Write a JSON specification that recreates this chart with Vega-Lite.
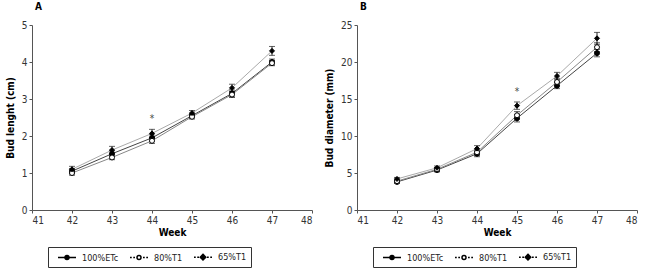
{
  "$schema": "https://vega.github.io/schema/vega-lite/v6.json",
  "background": "white",
  "padding": {"left": 5, "top": 2, "right": 5, "bottom": 0},
  "config": {
    "font": "DejaVu Sans Condensed, Liberation Sans",
    "view": {"stroke": null},
    "axis": {"domainColor": "#555", "tickColor": "#555", "labelColor": "#333", "labelFontSize": 10, "labelFont": "DejaVu Sans Condensed, Liberation Sans", "titleFont": "DejaVu Sans Condensed, Liberation Sans", "titleFontSize": 10, "titleFontWeight": "bold", "titleColor": "black", "grid": false, "tickSize": 3},
    "legend": {"labelFont": "DejaVu Sans Condensed, Liberation Sans"},
    "title": {"font": "DejaVu Sans Condensed, Liberation Sans", "fontSize": 10, "fontWeight": "bold", "anchor": "start", "frame": "group", "offset": 8, "dx": 3}
  },
  "datasets": {
    "A": [
      {"week": 42, "series": "100%ETc", "value": 1.05, "lo": 0.98, "hi": 1.12},
      {"week": 42, "series": "80%T1", "value": 1.0, "lo": 0.94, "hi": 1.06},
      {"week": 42, "series": "65%T1", "value": 1.1, "lo": 1.02, "hi": 1.18},
      {"week": 43, "series": "100%ETc", "value": 1.52, "lo": 1.44, "hi": 1.6},
      {"week": 43, "series": "80%T1", "value": 1.42, "lo": 1.36, "hi": 1.48},
      {"week": 43, "series": "65%T1", "value": 1.62, "lo": 1.52, "hi": 1.72},
      {"week": 44, "series": "100%ETc", "value": 1.95, "lo": 1.87, "hi": 2.03},
      {"week": 44, "series": "80%T1", "value": 1.87, "lo": 1.8, "hi": 1.94},
      {"week": 44, "series": "65%T1", "value": 2.07, "lo": 1.96, "hi": 2.18},
      {"week": 45, "series": "100%ETc", "value": 2.55, "lo": 2.49, "hi": 2.61},
      {"week": 45, "series": "80%T1", "value": 2.52, "lo": 2.46, "hi": 2.58},
      {"week": 45, "series": "65%T1", "value": 2.62, "lo": 2.55, "hi": 2.69},
      {"week": 46, "series": "100%ETc", "value": 3.15, "lo": 3.06, "hi": 3.24},
      {"week": 46, "series": "80%T1", "value": 3.12, "lo": 3.04, "hi": 3.2},
      {"week": 46, "series": "65%T1", "value": 3.3, "lo": 3.2, "hi": 3.4},
      {"week": 47, "series": "100%ETc", "value": 4.0, "lo": 3.92, "hi": 4.08},
      {"week": 47, "series": "80%T1", "value": 3.97, "lo": 3.9, "hi": 4.04},
      {"week": 47, "series": "65%T1", "value": 4.3, "lo": 4.18, "hi": 4.42}
    ],
    "B": [
      {"week": 42, "series": "100%ETc", "value": 3.8, "lo": 3.6, "hi": 4.0},
      {"week": 42, "series": "80%T1", "value": 3.9, "lo": 3.7, "hi": 4.1},
      {"week": 42, "series": "65%T1", "value": 4.2, "lo": 4.0, "hi": 4.4},
      {"week": 43, "series": "100%ETc", "value": 5.4, "lo": 5.15, "hi": 5.65},
      {"week": 43, "series": "80%T1", "value": 5.5, "lo": 5.25, "hi": 5.75},
      {"week": 43, "series": "65%T1", "value": 5.7, "lo": 5.45, "hi": 5.95},
      {"week": 44, "series": "100%ETc", "value": 7.6, "lo": 7.2, "hi": 8.0},
      {"week": 44, "series": "80%T1", "value": 7.8, "lo": 7.4, "hi": 8.2},
      {"week": 44, "series": "65%T1", "value": 8.3, "lo": 7.9, "hi": 8.7},
      {"week": 45, "series": "100%ETc", "value": 12.4, "lo": 11.9, "hi": 12.9},
      {"week": 45, "series": "80%T1", "value": 12.8, "lo": 12.3, "hi": 13.3},
      {"week": 45, "series": "65%T1", "value": 14.1, "lo": 13.6, "hi": 14.6},
      {"week": 46, "series": "100%ETc", "value": 16.8, "lo": 16.4, "hi": 17.2},
      {"week": 46, "series": "80%T1", "value": 17.3, "lo": 16.8, "hi": 17.8},
      {"week": 46, "series": "65%T1", "value": 18.1, "lo": 17.6, "hi": 18.6},
      {"week": 47, "series": "100%ETc", "value": 21.2, "lo": 20.7, "hi": 21.7},
      {"week": 47, "series": "80%T1", "value": 22.0, "lo": 21.4, "hi": 22.6},
      {"week": 47, "series": "65%T1", "value": 23.2, "lo": 22.4, "hi": 24.0}
    ],
    "starA": [{"week": 44, "value": 2.45, "label": "*"}],
    "starB": [{"week": 45, "value": 16.0, "label": "*"}]
  },
  "bounds": "flush",
  "spacing": 45,
  "resolve": {"scale": {"shape": "independent", "fill": "independent", "stroke": "independent", "y": "independent"}, "legend": {"shape": "independent", "fill": "independent"}},
  "hconcat": [
    {
      "title": "A",
      "width": 280,
      "height": 185,
      "resolve": {"scale": {"shape": "independent", "fill": "independent"}},
      "layer": [
        {
          "data": {"name": "A"},
          "mark": {"type": "line", "strokeWidth": 1},
          "encoding": {
            "x": {"field": "week", "type": "quantitative", "scale": {"domain": [41, 48], "nice": false}, "axis": {"title": "Week", "values": [41, 42, 43, 44, 45, 46, 47, 48], "format": "d", "titlePadding": 2}},
            "y": {"field": "value", "type": "quantitative", "scale": {"domain": [0, 5], "nice": false}, "axis": {"title": "Bud lenght (cm)", "values": [0, 1, 2, 3, 4, 5], "titlePadding": 6}},
            "stroke": {"field": "series", "type": "nominal", "scale": {"domain": ["100%ETc", "80%T1", "65%T1"], "range": ["#444", "#888", "#aaa"]}, "legend": null}
          }
        },
        {
          "data": {"name": "A"},
          "mark": {"type": "errorbar", "ticks": {"size": 6}, "color": "#222"},
          "encoding": {
            "x": {"field": "week", "type": "quantitative", "axis": {"title": "Week", "values": [41, 42, 43, 44, 45, 46, 47, 48], "format": "d", "titlePadding": 2}},
            "y": {"field": "lo", "type": "quantitative", "axis": {"title": "Bud lenght (cm)", "values": [0, 1, 2, 3, 4, 5], "titlePadding": 6}},
            "y2": {"field": "hi"}
          }
        },
        {
          "data": {"name": "A"},
          "mark": {"type": "point", "filled": true, "size": 25, "stroke": "black", "strokeWidth": 1, "opacity": 1},
          "encoding": {
            "x": {"field": "week", "type": "quantitative", "axis": {"title": "Week", "values": [41, 42, 43, 44, 45, 46, 47, 48], "format": "d", "titlePadding": 2}},
            "y": {"field": "value", "type": "quantitative", "axis": {"title": "Bud lenght (cm)", "values": [0, 1, 2, 3, 4, 5], "titlePadding": 6}},
            "shape": {"field": "series", "type": "nominal", "scale": {"domain": ["100%ETc", "80%T1", "65%T1"], "range": ["circle", "circle", "diamond"]}, "legend": null},
            "fill": {"field": "series", "type": "nominal", "scale": {"domain": ["100%ETc", "80%T1", "65%T1"], "range": ["black", "white", "black"]}, "legend": null}
          }
        },
        {
          "data": {"name": "A"},
          "transform": [{"filter": "datum.week > 100"}],
          "mark": {"type": "point", "filled": true, "stroke": "black", "strokeWidth": 1, "opacity": 1},
          "encoding": {
            "x": {"field": "week", "type": "quantitative", "axis": {"title": "Week", "values": [41, 42, 43, 44, 45, 46, 47, 48], "format": "d", "titlePadding": 2}},
            "y": {"field": "value", "type": "quantitative", "axis": {"title": "Bud lenght (cm)", "values": [0, 1, 2, 3, 4, 5], "titlePadding": 6}},
            "shape": {"field": "series", "type": "nominal", "scale": {"domain": ["100%ETc", "80%T1", "65%T1"], "range": ["M-1.8,0L-0.4,0M0.4,0L1.8,0M0.4,0A0.4,0.4 0 1,1 -0.4,0A0.4,0.4 0 1,1 0.4,0Z", "M-1.8,0L-1.45,0M-1.15,0L-0.8,0M0.8,0L1.15,0M1.45,0L1.8,0M0.4,0A0.4,0.4 0 1,1 -0.4,0A0.4,0.4 0 1,1 0.4,0Z", "M-1.8,0L-1.45,0M-1.15,0L-0.8,0M0.8,0L1.15,0M1.45,0L1.8,0M0,-0.55L0.55,0L0,0.55L-0.55,0Z"]},
              "legend": {"title": null, "orient": "none", "legendX": 16, "legendY": 222, "direction": "horizontal", "strokeColor": "#333", "fillColor": "white", "padding": 4, "symbolSize": 100, "symbolOffset": 9, "labelOffset": 9, "columnPadding": 5, "labelFontSize": 9, "labelColor": "#222",
                "encode": {"symbols": {"update": {"stroke": {"value": "black"}, "strokeWidth": {"value": 1}, "opacity": {"value": 1}}}}}},
            "fill": {"field": "series", "type": "nominal", "scale": {"domain": ["100%ETc", "80%T1", "65%T1"], "range": ["black", "white", "black"]}, "legend": null}
          }
        },
        {
          "data": {"name": "starA"},
          "mark": {"type": "text", "fontSize": 10, "color": "#444"},
          "encoding": {
            "x": {"field": "week", "type": "quantitative", "axis": {"title": "Week", "values": [41, 42, 43, 44, 45, 46, 47, 48], "format": "d", "titlePadding": 2}},
            "y": {"field": "value", "type": "quantitative", "axis": {"title": "Bud lenght (cm)", "values": [0, 1, 2, 3, 4, 5], "titlePadding": 6}},
            "text": {"field": "label"}
          }
        }
      ]
    },
    {
      "title": "B",
      "width": 280,
      "height": 185,
      "resolve": {"scale": {"shape": "independent", "fill": "independent"}},
      "layer": [
        {
          "data": {"name": "B"},
          "mark": {"type": "line", "strokeWidth": 1},
          "encoding": {
            "x": {"field": "week", "type": "quantitative", "scale": {"domain": [41, 48], "nice": false}, "axis": {"title": "Week", "values": [41, 42, 43, 44, 45, 46, 47, 48], "format": "d", "titlePadding": 2}},
            "y": {"field": "value", "type": "quantitative", "scale": {"domain": [0, 25], "nice": false}, "axis": {"title": "Bud diameter (mm)", "values": [0, 5, 10, 15, 20, 25], "titlePadding": 6}},
            "stroke": {"field": "series", "type": "nominal", "scale": {"domain": ["100%ETc", "80%T1", "65%T1"], "range": ["#444", "#888", "#aaa"]}, "legend": null}
          }
        },
        {
          "data": {"name": "B"},
          "mark": {"type": "errorbar", "ticks": {"size": 6}, "color": "#222"},
          "encoding": {
            "x": {"field": "week", "type": "quantitative", "axis": {"title": "Week", "values": [41, 42, 43, 44, 45, 46, 47, 48], "format": "d", "titlePadding": 2}},
            "y": {"field": "lo", "type": "quantitative", "axis": {"title": "Bud diameter (mm)", "values": [0, 5, 10, 15, 20, 25], "titlePadding": 6}},
            "y2": {"field": "hi"}
          }
        },
        {
          "data": {"name": "B"},
          "mark": {"type": "point", "filled": true, "size": 25, "stroke": "black", "strokeWidth": 1, "opacity": 1},
          "encoding": {
            "x": {"field": "week", "type": "quantitative", "axis": {"title": "Week", "values": [41, 42, 43, 44, 45, 46, 47, 48], "format": "d", "titlePadding": 2}},
            "y": {"field": "value", "type": "quantitative", "axis": {"title": "Bud diameter (mm)", "values": [0, 5, 10, 15, 20, 25], "titlePadding": 6}},
            "shape": {"field": "series", "type": "nominal", "scale": {"domain": ["100%ETc", "80%T1", "65%T1"], "range": ["circle", "circle", "diamond"]}, "legend": null},
            "fill": {"field": "series", "type": "nominal", "scale": {"domain": ["100%ETc", "80%T1", "65%T1"], "range": ["black", "white", "black"]}, "legend": null}
          }
        },
        {
          "data": {"name": "B"},
          "transform": [{"filter": "datum.week > 100"}],
          "mark": {"type": "point", "filled": true, "stroke": "black", "strokeWidth": 1, "opacity": 1},
          "encoding": {
            "x": {"field": "week", "type": "quantitative", "axis": {"title": "Week", "values": [41, 42, 43, 44, 45, 46, 47, 48], "format": "d", "titlePadding": 2}},
            "y": {"field": "value", "type": "quantitative", "axis": {"title": "Bud diameter (mm)", "values": [0, 5, 10, 15, 20, 25], "titlePadding": 6}},
            "shape": {"field": "series", "type": "nominal", "scale": {"domain": ["100%ETc", "80%T1", "65%T1"], "range": ["M-1.8,0L-0.4,0M0.4,0L1.8,0M0.4,0A0.4,0.4 0 1,1 -0.4,0A0.4,0.4 0 1,1 0.4,0Z", "M-1.8,0L-1.45,0M-1.15,0L-0.8,0M0.8,0L1.15,0M1.45,0L1.8,0M0.4,0A0.4,0.4 0 1,1 -0.4,0A0.4,0.4 0 1,1 0.4,0Z", "M-1.8,0L-1.45,0M-1.15,0L-0.8,0M0.8,0L1.15,0M1.45,0L1.8,0M0,-0.55L0.55,0L0,0.55L-0.55,0Z"]},
              "legend": {"title": null, "orient": "none", "legendX": 16, "legendY": 222, "direction": "horizontal", "strokeColor": "#333", "fillColor": "white", "padding": 4, "symbolSize": 100, "symbolOffset": 9, "labelOffset": 9, "columnPadding": 5, "labelFontSize": 9, "labelColor": "#222",
                "encode": {"symbols": {"update": {"stroke": {"value": "black"}, "strokeWidth": {"value": 1}, "opacity": {"value": 1}}}}}},
            "fill": {"field": "series", "type": "nominal", "scale": {"domain": ["100%ETc", "80%T1", "65%T1"], "range": ["black", "white", "black"]}, "legend": null}
          }
        },
        {
          "data": {"name": "starB"},
          "mark": {"type": "text", "fontSize": 10, "color": "#444"},
          "encoding": {
            "x": {"field": "week", "type": "quantitative", "axis": {"title": "Week", "values": [41, 42, 43, 44, 45, 46, 47, 48], "format": "d", "titlePadding": 2}},
            "y": {"field": "value", "type": "quantitative", "axis": {"title": "Bud diameter (mm)", "values": [0, 5, 10, 15, 20, 25], "titlePadding": 6}},
            "text": {"field": "label"}
          }
        }
      ]
    }
  ]
}
